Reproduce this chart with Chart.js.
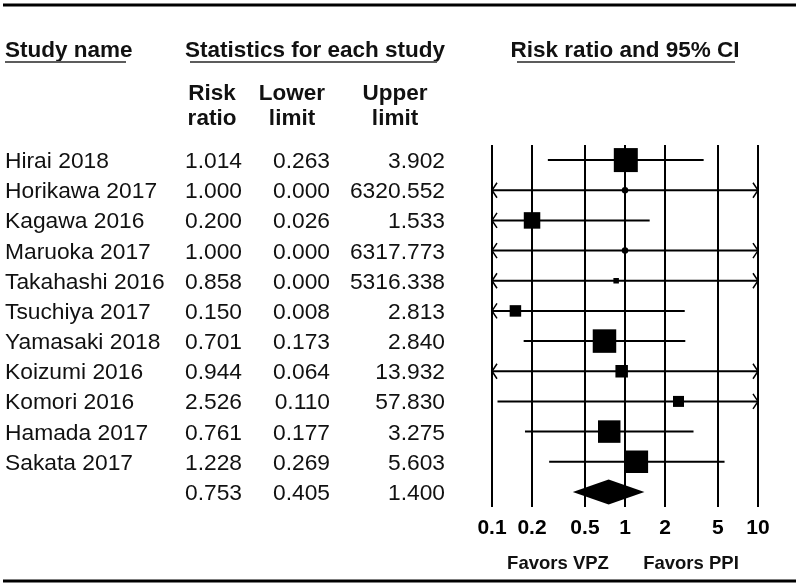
<!DOCTYPE html>
<html lang="en">
<head>
<meta charset="UTF-8">
<title>Forest plot - VPZ vs PPI</title>
<style>
    * {
        box-sizing  : border-box;
        margin      : 0;
        padding     : 0;
    }
    html, body  { width: 800px; height: 587px; background: #fff; overflow: hidden; }
    #wrap       { position: relative; width: 800px; height: 587px; }
</style>
</head>
<body>
<div id="wrap">
    <canvas id="forestCanvas" width="800" height="587"></canvas>
</div>

<script src="https://cdn.jsdelivr.net/npm/chart.js@4.4.0/dist/chart.umd.min.js"></script>
<script>
"use strict";

// study data
const studies     = ["Hirai 2018", "Horikawa 2017", "Kagawa 2016", "Maruoka 2017", "Takahashi 2016",
                     "Tsuchiya 2017", "Yamasaki 2018", "Koizumi 2016", "Komori 2016", "Hamada 2017", "Sakata 2017"]
const riskRatio   = [1.014, 1.000, 0.200, 1.000, 0.858, 0.150, 0.701, 0.944, 2.526, 0.761, 1.228]
const lowerLimit  = [0.263, 0.000, 0.026, 0.000, 0.000, 0.008, 0.173, 0.064, 0.110, 0.177, 0.269]
const upperLimit  = [3.902, 6320.552, 1.533, 6317.773, 5316.338, 2.813, 2.840, 13.932, 57.830, 3.275, 5.603]
const pooled      = [0.753, 0.405, 1.400]   // risk ratio, lower, upper

const tickValues  = [0.1, 0.2, 0.5, 1, 2, 5, 10]
const tickLabels  = ["0.1", "0.2", "0.5", "1", "2", "5", "10"]

// drawing styles
const FONT        = '"Liberation Sans", Arial, sans-serif'
const boxSide     = [24, 6.5, 16.5, 6.5, 5.5, 11.5, 23.5, 12.5, 11, 22.5, 22.5]  // px, marker size per study
const boxShape    = ["rect", "circle", "rect", "circle", "rect", "rect", "rect", "rect", "rect", "rect", "rect"]
const textColor   = "#111"
const lineColor   = "#5c5c5c"

const summaryRow  = studies.length

function fmt(v) { return v.toFixed(3) }

function markerRadius(i) {
    // rect is drawn with side = 2 * r * sqrt(1/2), circle with diameter = 2 * r
    return boxShape[i] === "circle" ? boxSide[i] / 2 : boxSide[i] * Math.SQRT1_2
}

// draws CI lines, arrows, the diamond and the whole table around the plot
const forestPlugin = {
    id: "forest",
    beforeDatasetsDraw(chart) {
        const c  = chart.ctx
        const xs = chart.scales.x
        const ys = chart.scales.y
        const lo = xs.min, hi = xs.max

        c.save()
        c.strokeStyle = "#000"
        c.fillStyle   = "#000"

        for (let i = 0; i < studies.length; i++) {
            const y      = ys.getPixelForValue(i)
            const cutLo  = lowerLimit[i] < lo
            const cutHi  = upperLimit[i] > hi
            const x1     = xs.getPixelForValue(cutLo ? lo : lowerLimit[i])
            const x2     = xs.getPixelForValue(cutHi ? hi : upperLimit[i])

            c.lineWidth = 2
            c.beginPath()
            c.moveTo(x1, y)
            c.lineTo(x2, y)
            c.stroke()

            c.lineWidth = 1.5
            if (cutLo) {
                c.beginPath()
                c.moveTo(x1 + 5, y - 7.5)
                c.lineTo(x1, y)
                c.lineTo(x1 + 5, y + 7.5)
                c.stroke()
            }
            if (cutHi) {
                c.beginPath()
                c.moveTo(x2 - 5, y - 7.5)
                c.lineTo(x2, y)
                c.lineTo(x2 - 5, y + 7.5)
                c.stroke()
            }
        }

        // pooled estimate diamond
        const yd = ys.getPixelForValue(summaryRow)
        c.beginPath()
        c.moveTo(xs.getPixelForValue(pooled[1]), yd)
        c.lineTo(xs.getPixelForValue(pooled[0]), yd - 12.5)
        c.lineTo(xs.getPixelForValue(pooled[2]), yd)
        c.lineTo(xs.getPixelForValue(pooled[0]), yd + 12.5)
        c.closePath()
        c.fill()
        c.restore()
    },
    afterDraw(chart) {
        const c  = chart.ctx
        const ys = chart.scales.y

        c.save()

        // top and bottom rules
        c.strokeStyle = "#000"
        c.lineWidth   = 3
        c.beginPath()
        c.moveTo(3, 5);   c.lineTo(796, 5)
        c.moveTo(3, 581); c.lineTo(796, 581)
        c.stroke()

        // section headers, underlined
        c.fillStyle = textColor
        c.font = "bold 22.5px " + FONT
        c.textBaseline = "alphabetic"
        c.textAlign = "left"
        c.fillText("Study name", 5, 57)
        c.textAlign = "center"
        c.fillText("Statistics for each study", 315, 57)
        c.fillText("Risk ratio and 95% CI", 625, 57)

        c.strokeStyle = lineColor
        c.lineWidth   = 2
        c.beginPath()
        c.moveTo(5, 62);   c.lineTo(126, 62)
        c.moveTo(190, 62); c.lineTo(437, 62)
        c.moveTo(517, 62); c.lineTo(735, 62)
        c.stroke()

        // column headers
        c.fillText("Risk", 212, 100)
        c.fillText("ratio", 212, 125)
        c.fillText("Lower", 292, 100)
        c.fillText("limit", 292, 125)
        c.fillText("Upper", 395, 100)
        c.fillText("limit", 395, 125)

        // rows
        c.font = "22.8px " + FONT
        for (let i = 0; i < studies.length; i++) {
            const y = ys.getPixelForValue(i) + 8
            c.textAlign = "left"
            c.fillText(studies[i], 5, y)
            c.textAlign = "right"
            c.fillText(fmt(riskRatio[i]), 242, y)
            c.fillText(fmt(lowerLimit[i]), 330, y)
            c.fillText(fmt(upperLimit[i]), 445, y)
        }
        const ySum = ys.getPixelForValue(summaryRow) + 8
        c.fillText(fmt(pooled[0]), 242, ySum)
        c.fillText(fmt(pooled[1]), 330, ySum)
        c.fillText(fmt(pooled[2]), 445, ySum)

        // favours labels under the axis
        c.font = "bold 18.5px " + FONT
        c.textAlign = "center"
        c.fillText("Favors VPZ", 558, 569)
        c.fillText("Favors PPI", 691, 569)

        c.restore()
    }
}

const chartContext = document.getElementById("forestCanvas").getContext("2d")

const forestChart = new Chart(chartContext, {
    type: "scatter",
    data: {
        datasets: [{
            data: riskRatio.map((v, i) => ({ x: v, y: i })),
            pointStyle: boxShape,
            pointRadius: studies.map((s, i) => markerRadius(i)),
            pointHoverRadius: studies.map((s, i) => markerRadius(i)),
            backgroundColor: "#000",
            borderWidth: 0
        }]
    },
    options: {
        responsive: false,
        animation: false,
        events: [],
        layout: { padding: { left: 492, right: 42, top: 145, bottom: 0 } },
        plugins: {
            legend: { display: false },
            tooltip: { enabled: false }
        },
        scales: {
            x: {
                type: "logarithmic",
                min: 0.1,
                max: 10,
                afterBuildTicks: s => { s.ticks = tickValues.map(v => ({ value: v })) },
                afterFit: s => { s.height = 80 },
                border: { display: false },
                grid: { color: "#000", lineWidth: 2, drawTicks: false },
                ticks: {
                    color: "#000",
                    padding: 9,
                    autoSkip: false,
                    maxRotation: 0,
                    font: { family: FONT, size: 21, weight: "bold" },
                    callback: (v, i) => tickLabels[i]
                }
            },
            y: {
                type: "linear",
                min: -0.5,
                max: summaryRow + 0.5,
                reverse: true,
                display: false
            }
        }
    },
    plugins: [forestPlugin]
})
</script>
</body>
</html>
